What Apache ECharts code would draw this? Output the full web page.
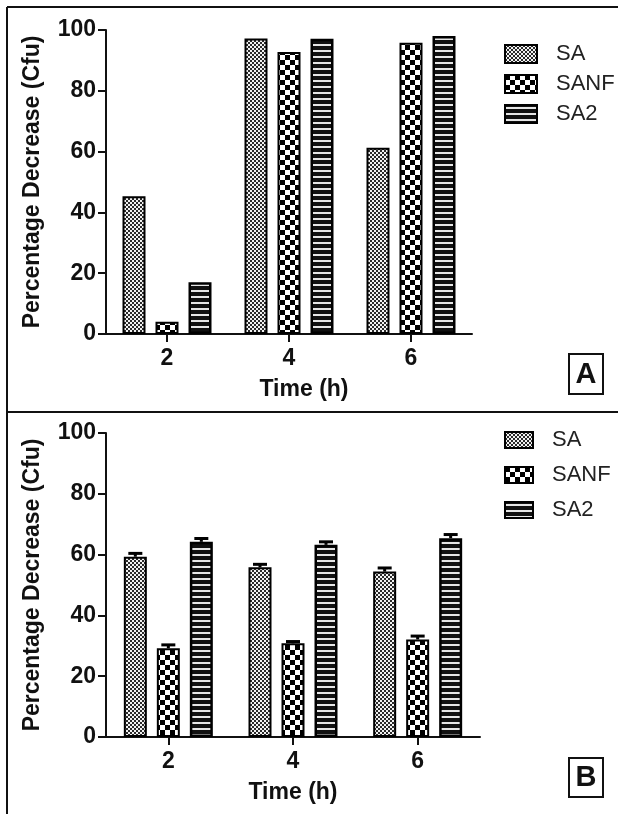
<!DOCTYPE html>
<html>
<head>
<meta charset="utf-8">
<script src="https://cdn.jsdelivr.net/npm/echarts@6/dist/echarts.min.js"></script>
<style>
html,body{margin:0;padding:0;background:#fff;}
#chart{width:618px;height:814px;}
</style>
</head>
<body>
<div id="chart"></div>
<script>
// ---- data ----
const categories = ['2', '4', '6'];
const seriesNames = ['SA', 'SANF', 'SA2'];
const yTicks = [0, 20, 40, 60, 80, 100];
// Panel A
const saA = [45.3, 97.2, 61.3];
const sanfA = [4.0, 92.8, 95.8];
const sa2A = [17.0, 97.1, 98.0];
// Panel B
const saB = [59.3, 55.8, 54.4];
const sanfB = [29.2, 30.8, 32.1];
const sa2B = [64.2, 63.2, 65.4];
const saErrB = [1.1, 1.0, 1.2];
const sanfErrB = [1.1, 0.6, 1.1];
const sa2ErrB = [1.1, 1.0, 1.2];

// ---- patterns ----
function makeCanvas(w, h, draw) {
  const c = document.createElement('canvas');
  c.width = w; c.height = h;
  draw(c.getContext('2d'));
  return c;
}
const patSA = makeCanvas(4, 4, g => {
  g.fillStyle = '#2a2a2a'; g.fillRect(0, 0, 4, 4);
  g.fillStyle = '#f2f2f2'; g.fillRect(0, 0, 2, 2); g.fillRect(2, 2, 2, 2);
});
const patSANF = makeCanvas(10, 10, g => {
  g.fillStyle = '#ffffff'; g.fillRect(0, 0, 10, 10);
  g.fillStyle = '#000000'; g.fillRect(0, 0, 5, 5); g.fillRect(5, 5, 5, 5);
});
const patSA2 = makeCanvas(8, 6, g => {
  g.fillStyle = '#111111'; g.fillRect(0, 0, 8, 6);
  g.fillStyle = '#e6e6e6'; g.fillRect(0, 2, 8, 2);
});
const patterns = [patSA, patSANF, patSA2];

const FONT = 'Liberation Sans, Arial, sans-serif';
const BAR_W = 23, BAR_PITCH = 33;

function yAxis(gridIndex) {
  return {
    type: 'value', gridIndex, min: 0, max: 100, interval: 20,
    name: 'Percentage Decrease (Cfu)', nameLocation: 'middle', nameGap: 62,
    nameTextStyle: { fontFamily: FONT, fontWeight: 'bold', fontSize: 23, color: '#111' },
    axisLine: { show: true, lineStyle: { color: '#111', width: 2 } },
    axisTick: { show: true, length: 8, lineStyle: { color: '#111', width: 2 } },
    axisLabel: { fontFamily: FONT, fontWeight: 'bold', fontSize: 23, color: '#111', margin: 10,
      formatter: v => yTicks.includes(v) ? String(v) : '' },
    splitLine: { show: false }
  };
}
function xAxis(gridIndex, namePad) {
  return {
    type: 'category', gridIndex, data: categories,
    name: 'Time (h)', nameLocation: 'middle', nameGap: 44,
    nameTextStyle: { fontFamily: FONT, fontWeight: 'bold', fontSize: 23, color: '#111', padding: namePad },
    axisLine: { show: true, lineStyle: { color: '#111', width: 2 } },
    axisTick: { show: true, alignWithLabel: true, length: 8, lineStyle: { color: '#111', width: 2 } },
    axisLabel: { fontFamily: FONT, fontWeight: 'bold', fontSize: 23, color: '#111', margin: 13 },
    splitLine: { show: false }
  };
}
function barSeries(name, data, idx, gi) {
  return {
    type: 'bar', name, data, xAxisIndex: gi, yAxisIndex: gi,
    barWidth: BAR_W, barGap: ((BAR_PITCH - BAR_W) / BAR_W * 100) + '%',
    itemStyle: { color: { image: patterns[idx], repeat: 'repeat' }, borderColor: '#000', borderWidth: idx === 2 ? 2.5 : 2 },
    emphasis: { disabled: true }
  };
}
function errSeries(vals, errs, idx) {
  return {
    type: 'custom', name: seriesNames[idx] + ' error', xAxisIndex: 1, yAxisIndex: 1, z: 5,
    data: vals.map((v, i) => [i, v, errs[i]]),
    renderItem: (params, api) => {
      const x = api.value(0), v = api.value(1), e = api.value(2);
      const base = api.coord([x, v]);
      const top = api.coord([x, v + e]);
      const cx = base[0] + (idx - 1) * BAR_PITCH;
      const st = { stroke: '#000', lineWidth: 3 };
      return { type: 'group', children: [
        { type: 'line', shape: { x1: cx, y1: base[1], x2: cx, y2: top[1] }, style: st },
        { type: 'line', shape: { x1: cx - 7, y1: top[1], x2: cx + 7, y2: top[1] }, style: st }
      ] };
    }
  };
}
function legend(top, w, h, gap) {
  return {
    data: seriesNames, orient: 'vertical', left: 499, top, icon: 'rect',
    itemWidth: w, itemHeight: h, itemGap: gap, selectedMode: false,
    itemStyle: { borderColor: '#000', borderWidth: 2 },
    textStyle: { fontFamily: FONT, fontSize: 22, color: '#222', padding: [0, 0, 0, 14] }
  };
}

const chart = echarts.init(document.getElementById('chart'), null, { renderer: 'canvas' });
chart.setOption({
  backgroundColor: '#ffffff',
  animation: false,
  grid: [
    { left: 106, top: 30, width: 366, height: 304 },
    { left: 106, top: 433, width: 374, height: 304 }
  ],
  xAxis: [xAxis(0, [0, 0, 0, 30]), xAxis(1, [0, 0, 0, 0])],
  yAxis: [yAxis(0), yAxis(1)],
  legend: [legend(38, 32, 18, 8), legend(424, 28, 16, 13)],
  series: [
    barSeries('SA', saA, 0, 0), barSeries('SANF', sanfA, 1, 0), barSeries('SA2', sa2A, 2, 0),
    barSeries('SA', saB, 0, 1), barSeries('SANF', sanfB, 1, 1), barSeries('SA2', sa2B, 2, 1),
    errSeries(saB, saErrB, 0), errSeries(sanfB, sanfErrB, 1), errSeries(sa2B, sa2ErrB, 2)
  ],
  graphic: [
    { type: 'line', shape: { x1: 7, y1: 7, x2: 618, y2: 7 }, style: { stroke: '#111', lineWidth: 2 } },
    { type: 'line', shape: { x1: 7, y1: 7, x2: 7, y2: 814 }, style: { stroke: '#111', lineWidth: 2 } },
    { type: 'line', shape: { x1: 7, y1: 412, x2: 618, y2: 412 }, style: { stroke: '#111', lineWidth: 2 } },
    { type: 'rect', shape: { x: 569, y: 354, width: 34, height: 40 }, style: { fill: '#fff', stroke: '#111', lineWidth: 2 } },
    { type: 'text', x: 586, y: 375, style: { text: 'A', font: 'bold 29px Liberation Sans, Arial, sans-serif', fill: '#111', align: 'center', verticalAlign: 'middle' } },
    { type: 'rect', shape: { x: 569, y: 758, width: 34, height: 39 }, style: { fill: '#fff', stroke: '#111', lineWidth: 2 } },
    { type: 'text', x: 586, y: 778, style: { text: 'B', font: 'bold 29px Liberation Sans, Arial, sans-serif', fill: '#111', align: 'center', verticalAlign: 'middle' } }
  ]
});
</script>
</body>
</html>
